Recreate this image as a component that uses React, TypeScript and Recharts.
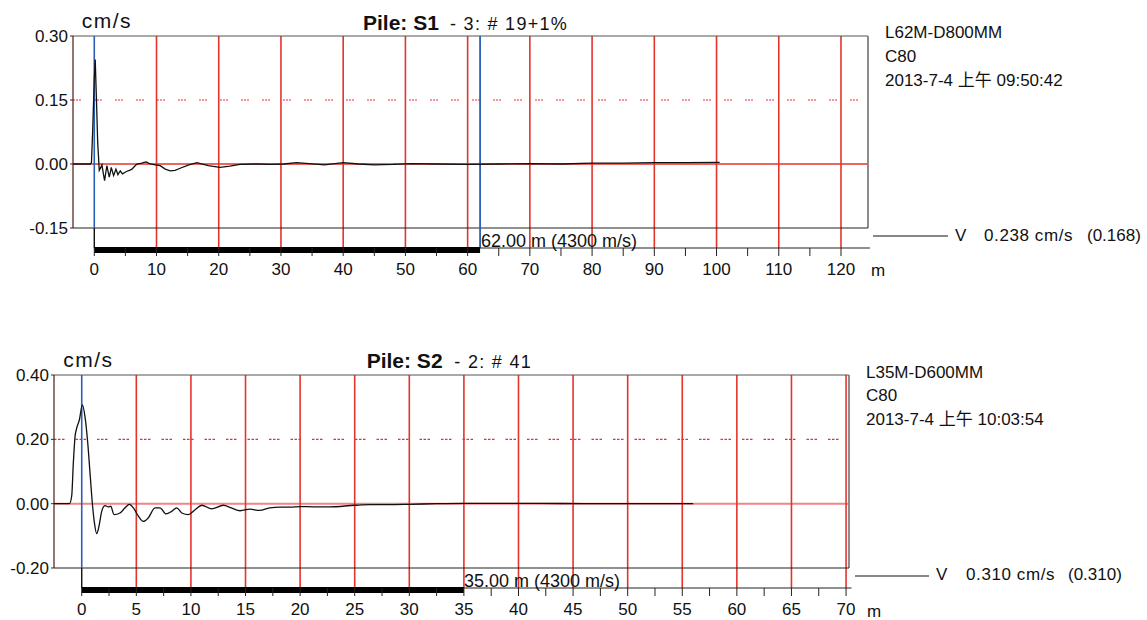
import React from 'react';
import { ComposedChart, Line, XAxis, YAxis, ReferenceLine } from 'recharts';

const FONT = "'Liberation Sans', Arial, 'Noto Sans CJK SC', sans-serif";

// ---------- Pile S1 ----------
const S1_X = [-3.4, -0.6, -0.45, -0.25, 0.0, 0.15, 0.35, 0.55, 0.8, 1.05, 1.23, 1.45, 1.66, 1.85, 2.03, 2.22, 2.41, 2.57, 2.73, 2.92, 3.1, 3.29, 3.48, 3.64, 3.8, 4.0, 4.18, 4.37, 4.55, 4.9, 5.25, 5.65, 6.05, 6.45, 6.85, 7.25, 7.65, 8.0, 8.35, 8.7, 9.0, 9.4, 9.8, 10.6, 11.4, 12.2, 13.0, 13.8, 15.2, 16.5, 18.3, 20.2, 21.8, 23.4, 26, 28.5, 30.5, 32.5, 34.5, 37, 40, 42.5, 45, 48, 51, 55, 60, 65, 70, 75, 80, 85, 90, 95, 100.5];
const S1_V = [0, 0, 0.004, 0.08, 0.2, 0.245, 0.15, 0.05, -0.015, -0.008, -0.002, -0.022, -0.039, -0.02, -0.004, -0.018, -0.031, -0.02, -0.008, -0.018, -0.027, -0.02, -0.012, -0.018, -0.025, -0.02, -0.016, -0.02, -0.023, -0.02, -0.017, -0.015, -0.012, -0.006, 0.0, 0.001, 0.002, 0.004, 0.005, 0.002, 0.0, -0.001, -0.002, -0.004, -0.012, -0.016, -0.015, -0.01, -0.002, 0.003, -0.004, -0.008, -0.005, -0.001, 0.0, -0.001, 0.0, 0.003, 0.001, -0.002, 0.003, 0.0, -0.002, -0.001, 0.001, 0.0, -0.001, 0.0, 0.001, 0.0, 0.002, 0.002, 0.003, 0.003, 0.004];
const S1_XTICKS = [0, 5, 10, 15, 20, 25, 30, 35, 40, 45, 50, 55, 60, 65, 70, 75, 80, 85, 90, 95, 100, 105, 110, 115, 120];
const S1_YTICKS = [-0.15, 0, 0.15, 0.3];
const S1_GRID = [10, 20, 30, 40, 50, 60, 70, 80, 90, 100, 110, 120];
const S1_MARKS = [0, 62];
const S1_INFO = ['L62M-D800MM', 'C80', '2013-7-4 上午 09:50:42'];

// ---------- Pile S2 ----------
const S2_X = [-2.54, -1.13, -0.92, -0.77, -0.61, -0.46, -0.22, 0.06, 0.3, 0.55, 0.76, 0.97, 1.16, 1.37, 1.58, 1.83, 2.13, 2.44, 2.65, 2.96, 3.5, 3.97, 4.36, 4.73, 5.19, 5.64, 6.1, 6.71, 7.17, 7.72, 8.24, 8.7, 9.16, 9.77, 10.38, 10.99, 11.9, 12.97, 13.7, 14.5, 15.4, 16.3, 17.2, 18.2, 19.1, 20, 21.2, 22.7, 25, 26.4, 28, 30, 32.5, 35, 38, 42, 46, 50, 53, 56];
const S2_V = [0, 0, 0.023, 0.126, 0.209, 0.235, 0.26, 0.307, 0.27, 0.189, 0.095, 0.002, -0.059, -0.093, -0.07, -0.024, -0.006, -0.01, -0.008, -0.034, -0.029, -0.013, -0.002, -0.013, -0.039, -0.055, -0.044, -0.013, -0.013, -0.032, -0.024, -0.013, -0.029, -0.034, -0.019, -0.005, -0.016, -0.005, -0.013, -0.022, -0.017, -0.021, -0.013, -0.011, -0.011, -0.009, -0.01, -0.01, -0.005, -0.003, -0.003, -0.002, 0, 0.001, 0.001, 0.001, 0.0, 0, 0, 0];
const S2_XTICKS = [0, 2.5, 5, 7.5, 10, 12.5, 15, 17.5, 20, 22.5, 25, 27.5, 30, 32.5, 35, 37.5, 40, 42.5, 45, 47.5, 50, 52.5, 55, 57.5, 60, 62.5, 65, 67.5, 70];
const S2_YTICKS = [-0.2, 0, 0.2, 0.4];
const S2_GRID = [5, 10, 15, 20, 25, 30, 35, 40, 45, 50, 55, 60, 65, 70];
const S2_MARKS = [0, 35];
const S2_INFO = ['L35M-D600MM', 'C80', '2013-7-4 上午 10:03:54'];

const RED = '#e3342b';
const BLUE = '#2b5fb5';

type PanelCfg = {
  xs: number[];
  vs: number[];
  xTicks: number[];
  yTicks: number[];
  grid: number[];
  marks: number[];
  labelEvery: number;
  xDomain: [number, number];
  yTop: number;
  yBox: number;
  yAxis: number;
  yBar: number;
  dashY: number;
  marginTop: number;
  marginRight: number;
  yWidth: number;
  xHeight: number;
  zeroColor: string;
  zeroWidth: number;
  dash: string;
  smooth: boolean;
  secondBlue: boolean;
  axisEnd: number;
};

function Panel({ c }: { c: PanelCfg }) {
  const data = c.xs.map((x, i) => ({ x, v: c.vs[i] }));
  const [x0, x1] = c.xDomain;
  return (
    <ComposedChart
      width={1147}
      height={300}
      data={data}
      margin={{ top: c.marginTop, right: c.marginRight, bottom: 0, left: 0 }}
      style={{ fontFamily: FONT }}
    >
      <XAxis
        type="number"
        dataKey="x"
        domain={c.xDomain}
        allowDataOverflow
        ticks={c.xTicks}
        interval={0}
        tickFormatter={(v: number) => (Math.abs(v % c.labelEvery) < 1e-9 ? String(v) : '')}
        axisLine={false}
        tickLine={{ stroke: '#222' }}
        tickSize={8}
        tickMargin={7}
        height={c.xHeight}
        tick={{ fontSize: 17, fill: '#111', fontFamily: FONT }}
      />
      <YAxis
        type="number"
        domain={[c.yAxis, c.yTop]}
        allowDataOverflow
        ticks={c.yTicks}
        interval={0}
        tickFormatter={(v: number) => v.toFixed(2)}
        axisLine={false}
        tickLine={{ stroke: '#5a1a1a' }}
        tickSize={3}
        tickMargin={2}
        width={c.yWidth}
        tick={{ fontSize: 17, fill: '#111', fontFamily: FONT }}
      />
      <ReferenceLine segment={[{ x: x0, y: c.dashY }, { x: x1, y: c.dashY }]} stroke="#f02a2a" strokeDasharray={c.dash} strokeWidth={1.1} ifOverflow="visible" />
      <ReferenceLine segment={[{ x: x0, y: 0 }, { x: x1, y: 0 }]} stroke={c.zeroColor} strokeWidth={c.zeroWidth} ifOverflow="visible" />
      {c.grid.map((g) => (
        <ReferenceLine key={'g' + g} segment={[{ x: g, y: c.yTop }, { x: g, y: c.yAxis }]} stroke={RED} strokeWidth={1.6} ifOverflow="visible" />
      ))}
      <ReferenceLine segment={[{ x: x0, y: c.yTop }, { x: x1, y: c.yTop }]} stroke="#555" strokeWidth={1.2} ifOverflow="visible" />
      <ReferenceLine segment={[{ x: x1, y: c.yTop }, { x: x1, y: c.yBox }]} stroke="#808080" strokeWidth={1.8} ifOverflow="visible" />
      <ReferenceLine segment={[{ x: x0, y: c.yBox }, { x: x1, y: c.yBox }]} stroke="#222" strokeWidth={1.2} ifOverflow="visible" />
      <ReferenceLine segment={[{ x: x0, y: c.yTop }, { x: x0, y: c.yBox }]} stroke="#4a1c1c" strokeWidth={1.2} ifOverflow="visible" />
      <ReferenceLine segment={[{ x: c.marks[0], y: c.yTop }, { x: c.marks[0], y: c.yBox }]} stroke={BLUE} strokeWidth={1.6} ifOverflow="visible" />
      <ReferenceLine segment={[{ x: c.marks[0], y: c.yBox }, { x: c.marks[0], y: c.yAxis }]} stroke="#111" strokeWidth={1.4} ifOverflow="visible" />
      {c.secondBlue && (
        <ReferenceLine segment={[{ x: c.marks[1], y: c.yTop }, { x: c.marks[1], y: c.yAxis }]} stroke={BLUE} strokeWidth={1.8} ifOverflow="visible" />
      )}
      <ReferenceLine segment={[{ x: c.marks[0], y: c.yAxis }, { x: c.axisEnd, y: c.yAxis }]} stroke="#222" strokeWidth={1.2} ifOverflow="visible" />
      <ReferenceLine segment={[{ x: c.marks[0], y: c.yBar }, { x: c.marks[1], y: c.yBar }]} stroke="#000" strokeWidth={6} ifOverflow="visible" />
      <Line type={c.smooth ? 'monotone' : 'linear'} dataKey="v" stroke="#111" strokeWidth={1.3} dot={false} isAnimationActive={false} />
    </ComposedChart>
  );
}

const cfg1: PanelCfg = {
  xs: S1_X, vs: S1_V, xTicks: S1_XTICKS, yTicks: S1_YTICKS, grid: S1_GRID, marks: S1_MARKS,
  labelEvery: 10, xDomain: [-3.42, 124.34], yTop: 0.3, yBox: -0.15, yAxis: -0.1969, yBar: -0.2016,
  dashY: 0.15, marginTop: 36, marginRight: 279, yWidth: 73, xHeight: 52,
  zeroColor: RED, zeroWidth: 1.3, dash: '2 1 2 1 2 13', smooth: false, secondBlue: true, axisEnd: 124.66,
};

const cfg2: PanelCfg = {
  xs: S2_X, vs: S2_V, xTicks: S2_XTICKS, yTicks: S2_YTICKS, grid: S2_GRID, marks: S2_MARKS,
  labelEvery: 5, xDomain: [-2.54, 70.27], yTop: 0.4, yBox: -0.2, yAxis: -0.2622, yBar: -0.2684,
  dashY: 0.2, marginTop: 55, marginRight: 298, yWidth: 54, xHeight: 32,
  zeroColor: '#f08585', zeroWidth: 2, dash: '2.5 1.5 2.5 1.5 2.5 11', smooth: true, secondBlue: false, axisEnd: 70.5,
};

function Texts() {
  const t = { fontFamily: FONT, fill: '#111' } as const;
  return (
    <svg width={1147} height={620} style={{ position: 'absolute', left: 0, top: 0, pointerEvents: 'none' }}>
      {/* panel 1 */}
      <text x={81.7} y={28.3} fontSize={21} letterSpacing={1.5} {...t}>cm/s</text>
      <text x={363} y={30} {...t}>
        <tspan fontSize={21} fontWeight="bold">Pile: S1</tspan>
        <tspan x={450} fontSize={18} letterSpacing={1.3}>- 3: # 19+1%</tspan>
      </text>
      {S1_INFO.map((s, i) => (
        <text key={s} x={885} y={[38.3, 62.3, 85.7][i]} fontSize={17} {...t}>{s}</text>
      ))}
      <line x1={873} x2={948} y1={236} y2={236} stroke="#111" strokeWidth={1.2} />
      <text x={955} y={240.7} fontSize={17} {...t}>V</text>
      <text x={984} y={240.7} fontSize={17} letterSpacing={0.6} {...t}>0.238 cm/s</text>
      <text x={1087} y={240.7} fontSize={17} {...t}>(0.168)</text>
      <text x={481} y={246.5} fontSize={18} {...t}>62.00 m (4300 m/s)</text>
      <text x={871} y={276} fontSize={17} {...t}>m</text>

      {/* panel 2 */}
      <text x={63.3} y={366.7} fontSize={21} letterSpacing={1.5} {...t}>cm/s</text>
      <text x={366.7} y={368.3} {...t}>
        <tspan fontSize={21} fontWeight="bold">Pile: S2</tspan>
        <tspan x={454.3} fontSize={18} letterSpacing={1.3}>- 2: # 41</tspan>
      </text>
      {S2_INFO.map((s, i) => (
        <text key={s} x={866} y={[377.5, 401, 424.5][i]} fontSize={17} {...t}>{s}</text>
      ))}
      <line x1={855} x2={929} y1={576} y2={576} stroke="#111" strokeWidth={1.2} />
      <text x={936} y={580} fontSize={17} {...t}>V</text>
      <text x={966} y={580} fontSize={17} letterSpacing={0.6} {...t}>0.310 cm/s</text>
      <text x={1068} y={580} fontSize={17} {...t}>(0.310)</text>
      <text x={464} y={586.5} fontSize={18} {...t}>35.00 m (4300 m/s)</text>
      <text x={867} y={616.5} fontSize={17} {...t}>m</text>
    </svg>
  );
}

export default function App() {
  return (
    <div style={{ position: 'absolute', left: 0, top: 0, width: 1147, height: 620, background: '#fff', overflow: 'hidden', fontFamily: FONT }}>
      <div style={{ position: 'absolute', left: 0, top: 0 }}>
        <Panel c={cfg1} />
      </div>
      <div style={{ position: 'absolute', left: 0, top: 320 }}>
        <Panel c={cfg2} />
      </div>
      <Texts />
    </div>
  );
}
